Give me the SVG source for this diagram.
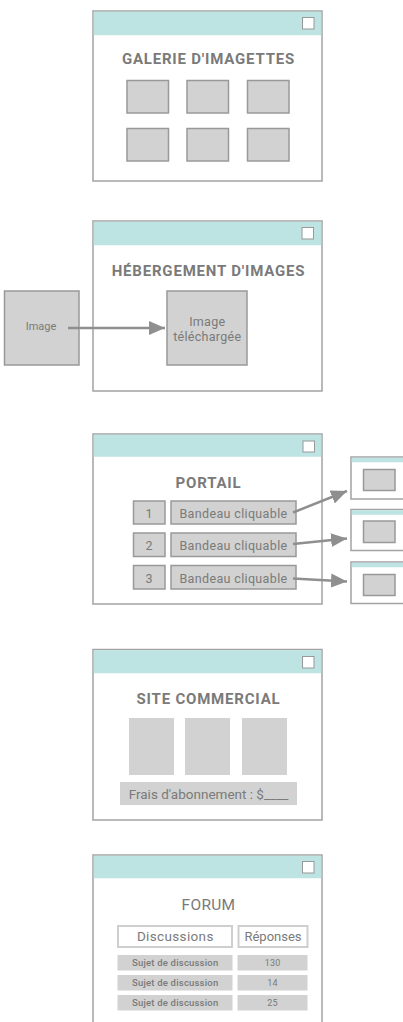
<svg xmlns="http://www.w3.org/2000/svg" width="403" height="1022" viewBox="0 0 403 1022">
<defs>
<style>
.win{fill:#fff;stroke:#a3a3a3;stroke-width:1.5}
.bar{fill:#bde3e3}
.chk{fill:#fff;stroke:#999;stroke-width:1}
.box{fill:#d1d2d1;stroke:#999;stroke-width:1.5}
.fill{fill:#d1d2d1}
.t{font-family:Roboto,"DejaVu Sans",sans-serif;fill:#7a7a7a;text-anchor:middle}
.h{font-weight:bold;font-size:15px;letter-spacing:0.8px}
.con{stroke:#8f8f8f;stroke-width:2.5;fill:none}
</style>
<marker id="ah" markerUnits="userSpaceOnUse" markerWidth="16" markerHeight="16" viewBox="0 0 16 16" refX="16" refY="8" orient="auto">
<path d="M0,1 L16,8 L0,15 Z" fill="#8f8f8f"/>
</marker>
</defs>

<g id="galerie">
<rect class="win" x="93" y="11" width="229" height="170"/>
<rect class="bar" x="93.75" y="11.75" width="227.5" height="23.5"/>
<rect class="chk" x="302.5" y="17.5" width="11.5" height="11.5"/>
<text class="t h" x="208.5" y="64">GALERIE D'IMAGETTES</text>
<rect class="box" x="127" y="80.5" width="41.5" height="32.5"/>
<rect class="box" x="187" y="80.5" width="41.5" height="32.5"/>
<rect class="box" x="247.5" y="80.5" width="41.5" height="32.5"/>
<rect class="box" x="127" y="128.5" width="41.5" height="32.5"/>
<rect class="box" x="187" y="128.5" width="41.5" height="32.5"/>
<rect class="box" x="247.5" y="128.5" width="41.5" height="32.5"/>
</g>

<g id="hebergement">
<rect class="win" x="93" y="221" width="229" height="170"/>
<rect class="bar" x="93.75" y="221.75" width="227.5" height="23.5"/>
<rect class="chk" x="302" y="227.5" width="11.5" height="11.5"/>
<text class="t h" x="208.5" y="276">HÉBERGEMENT D'IMAGES</text>
<rect class="box" x="167" y="291" width="80" height="74"/>
<text class="t" x="207.3" y="326" font-size="12.5" letter-spacing="0.3">Image</text>
<text class="t" x="207.3" y="341" font-size="12.5" letter-spacing="0.3">téléchargée</text>
</g>

<g id="image">
<rect class="box" x="4.5" y="291" width="74.5" height="74"/>
<text class="t" x="41" y="330" font-size="11">Image</text>
</g>

<g id="portail">
<rect class="win" x="93" y="434" width="229" height="170"/>
<rect class="bar" x="93.75" y="434.75" width="227.5" height="22"/>
<rect class="chk" x="303" y="441" width="11.5" height="11"/>
<text class="t h" x="208.5" y="488">PORTAIL</text>
<rect class="box" x="133.5" y="501" width="31.5" height="23"/>
<rect class="box" x="171" y="501" width="125" height="23"/>
<text class="t" x="149" y="518" font-size="12.5">1</text>
<text class="t" x="233.5" y="518" font-size="12.5" letter-spacing="0.35">Bandeau cliquable</text>
<rect class="box" x="133.5" y="533" width="31.5" height="23.5"/>
<rect class="box" x="171" y="533" width="125" height="23.5"/>
<text class="t" x="149" y="550" font-size="12.5">2</text>
<text class="t" x="233.5" y="550" font-size="12.5" letter-spacing="0.35">Bandeau cliquable</text>
<rect class="box" x="133.5" y="565.5" width="31.5" height="23.5"/>
<rect class="box" x="171" y="565.5" width="125" height="23.5"/>
<text class="t" x="149" y="582.5" font-size="12.5">3</text>
<text class="t" x="233.5" y="582.5" font-size="12.5" letter-spacing="0.35">Bandeau cliquable</text>
</g>

<g id="page1">
<rect class="win" x="351" y="457" width="53" height="42"/>
<rect class="bar" x="351.75" y="457.75" width="52" height="4.5"/>
<rect class="box" x="363.5" y="469.5" width="31.5" height="21"/>
</g>
<g id="page2">
<rect class="win" x="351" y="509.5" width="53" height="41"/>
<rect class="bar" x="351.75" y="510.25" width="52" height="4.5"/>
<rect class="box" x="363.5" y="521" width="31.5" height="21.5"/>
</g>
<g id="page3">
<rect class="win" x="351" y="562" width="53" height="41.5"/>
<rect class="bar" x="351.75" y="562.75" width="52" height="4.5"/>
<rect class="box" x="363.5" y="574.5" width="31.5" height="21"/>
</g>

<g id="commercial">
<rect class="win" x="93" y="649.5" width="229" height="170.5"/>
<rect class="bar" x="93.75" y="650.25" width="227.5" height="23"/>
<rect class="chk" x="302.5" y="656.5" width="11.5" height="11.5"/>
<text class="t h" x="208.5" y="704">SITE COMMERCIAL</text>
<rect class="fill" x="129" y="718" width="45" height="57"/>
<rect class="fill" x="185" y="718" width="45" height="57"/>
<rect class="fill" x="242" y="718" width="45" height="57"/>
<rect class="fill" x="120" y="782" width="177" height="23"/>
<text class="t" x="208.5" y="798.5" font-size="13.5">Frais d'abonnement : $____</text>
</g>

<g id="forum">
<rect class="win" x="93" y="855" width="229" height="175"/>
<rect class="bar" x="93.75" y="855.75" width="227.5" height="22.5"/>
<rect class="chk" x="302.5" y="861.5" width="11.5" height="11.5"/>
<text class="t" x="208.5" y="910" font-size="15.5" letter-spacing="0.3">FORUM</text>
<rect x="118" y="926" width="114" height="21" fill="#fff" stroke="#cfcfcf" stroke-width="2"/>
<rect x="238.5" y="926" width="69" height="21" fill="#fff" stroke="#cfcfcf" stroke-width="2"/>
<text class="t" x="175.3" y="941" font-size="13.5" letter-spacing="0.35">Discussions</text>
<text class="t" x="273" y="941" font-size="13">Réponses</text>
<rect class="fill" x="117.5" y="955" width="115" height="15.5"/>
<rect class="fill" x="237.5" y="955" width="70" height="15.5"/>
<rect class="fill" x="117.5" y="975" width="115" height="15.5"/>
<rect class="fill" x="237.5" y="975" width="70" height="15.5"/>
<rect class="fill" x="117.5" y="995" width="115" height="15.5"/>
<rect class="fill" x="237.5" y="995" width="70" height="15.5"/>
<g font-size="9.5" font-weight="500" letter-spacing="0.2">
<text class="t" x="175.2" y="966">Sujet de discussion</text>
<text class="t" x="175.2" y="986">Sujet de discussion</text>
<text class="t" x="175.2" y="1006">Sujet de discussion</text>
</g>
<g font-size="9" letter-spacing="0.2">
<text class="t" x="272.6" y="966">130</text>
<text class="t" x="272.6" y="986">14</text>
<text class="t" x="272.6" y="1006">25</text>
</g>
</g>

<g id="connectors">
<line class="con" x1="68" y1="328" x2="165" y2="328" marker-end="url(#ah)"/>
<line class="con" x1="293" y1="512.5" x2="347" y2="491" marker-end="url(#ah)"/>
<line class="con" x1="293" y1="544" x2="347" y2="538.5" marker-end="url(#ah)"/>
<line class="con" x1="293" y1="578.5" x2="347" y2="581.5" marker-end="url(#ah)"/>
</g>
</svg>
